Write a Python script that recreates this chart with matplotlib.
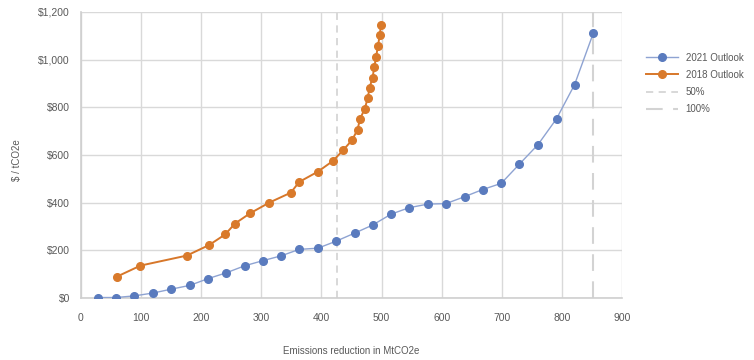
import matplotlib.pyplot as plt
from matplotlib.ticker import FuncFormatter

# ------------------------------------------
# DATA
# ------------------------------------------

x_2021 = [28, 58, 89, 120, 150, 181, 211, 242, 272, 303, 333, 363, 394, 424,
          455, 485, 516, 546, 577, 607, 638, 668, 699, 729, 760, 791, 821, 852]
y_2021 = [2, 2, 9, 21, 37, 53, 81, 106, 135, 157, 177, 204, 209, 238,
          272, 306, 352, 379, 394, 396, 425, 455, 481, 561, 643, 752, 895, 1110]

x_2018 = [60, 99, 176, 213, 240, 256, 281, 313, 349, 363, 394, 419, 436, 451,
          460, 464, 472, 477, 480, 485, 488, 491, 494, 497, 499]
y_2018 = [90, 136, 178, 222, 267, 312, 355, 400, 442, 487, 530, 575, 620, 663,
          706, 750, 794, 839, 882, 925, 970, 1013, 1058, 1103, 1146]

line_50 = 426
line_100 = 852

# ------------------------------------------
# PLOT
# ------------------------------------------

plt.rcParams['font.family'] = ['Liberation Sans', 'DejaVu Sans']

fig = plt.figure(figsize=(7.54, 3.6), dpi=100)
ax = fig.add_axes([0.1074, 0.1722, 0.7176, 0.7945])

grid_col = '#D9D9D9'
text_col = '#595959'

ax.plot(x_2021, y_2021, color='#8EA3D2', lw=1.0, marker='o', ms=5.5,
        mfc='#5A7BBE', mec='#5A7BBE', label='2021 Outlook', zorder=3)
ax.plot(x_2018, y_2018, color='#D7772A', lw=1.4, marker='o', ms=5.5,
        mfc='#D97A2B', mec='#D97A2B', label='2018 Outlook', zorder=3)

ax.axvline(line_50, color='#D6D6D6', lw=1.3, ls=(0, (4, 3)), label='50%', zorder=2)
ax.axvline(line_100, color='#D3D3D3', lw=1.5, ls=(0, (8, 5)), label='100%', zorder=2)

ax.set_xlim(0, 900)
ax.set_ylim(0, 1200)
ax.set_xticks(range(0, 901, 100))
ax.set_yticks(range(0, 1201, 200))
ax.yaxis.set_major_formatter(FuncFormatter(lambda v, p: '${:,.0f}'.format(v)))

ax.grid(True, color=grid_col, lw=1.0)
ax.set_axisbelow(True)
for s in ['top', 'right']:
    ax.spines[s].set_visible(False)
for s in ['left', 'bottom']:
    ax.spines[s].set_color('#CFCFCF')
    ax.spines[s].set_linewidth(1.2)

ax.tick_params(length=0, colors=text_col, labelsize=7.5)
ax.tick_params(axis='x', pad=11)
ax.tick_params(axis='y', pad=8)

fig.text(0.4655, 0.026, 'Emissions reduction in MtCO2e', color=text_col,
         fontsize=7, ha='center', va='center')
fig.text(0.023, 0.555, '$ / tCO2e', color=text_col, fontsize=7,
         ha='center', va='center', rotation=90)

ax.legend(loc='upper left', bbox_to_anchor=(1.045, 0.858), frameon=False,
          fontsize=7, labelcolor=text_col, handlelength=3.3,
          labelspacing=0.75, handletextpad=0.75, borderaxespad=0, borderpad=0)

plt.savefig('out.png', dpi=100)
